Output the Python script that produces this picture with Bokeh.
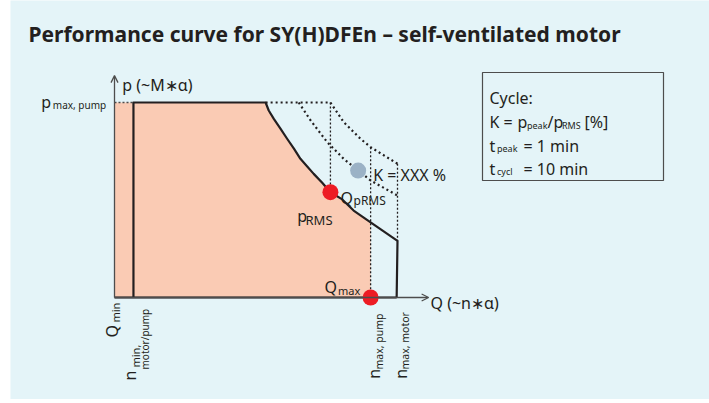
import math
from bokeh.plotting import figure
from bokeh.models import Range1d, Arrow, OpenHead
from bokeh.core.properties import value
from bokeh.embed import file_html
from bokeh.resources import INLINE

# ---------------- data (diagram units: Q in % of n_max,motor ; p in % of p_max) ----------------
Q_AXIS = 0.0
N_MIN = 6.7
N_MAX_PUMP = 90.5
N_MAX_MOTOR = 100.0
MOTOR_FOOT = 99.7
P_MAX = 100.0
Q_AXIS_END = 111.0
P_AXIS_END = 113.8

# limiting (continuous) curve of the self-ventilated motor
curve_q = [53.4, 54.5, 56.3, 58.7, 61.0, 63.4, 65.7, 68.1, 70.4, 73.4, 76.3, 80.2, 84.5, 90.5, 100.0]
curve_p = [100.0, 95.9, 91.6, 86.5, 81.4, 76.3, 71.1, 67.2, 63.4, 58.8, 54.0, 50.6, 44.6, 38.5, 29.0]

# dotted peak curves
outer_q = [76.3, 81.0, 86.9, 90.5, 100.0]
outer_p = [100.0, 89.9, 81.4, 77.1, 68.6]
inner_q = [65.1, 69.3, 75.2, 81.0, 86.1, 90.5, 100.0]
inner_p = [100.0, 90.8, 79.6, 71.1, 65.1, 60.0, 52.3]

# marked operating points
rms_q, rms_p = [76.3], [54.0]
qmax_q, qmax_p = [90.5], [0.0]
k_q, k_p = [86.1], [65.1]

TITLE = "Performance curve for SY(H)DFEn \u2013 self-ventilated motor"

# ---------------- styling / layout ----------------
BG = "#E4F4F8"
SALMON = "#FACBB4"
RED = "#ED1C24"
GREY_DOT = "#9BB2C6"
LINE = "#231F20"
AXIS = "#4D4D4D"
TEXT = "#231F20"
FONT = "Noto Sans"

W, H = 709, 399
LEFT = 10                     # white strip left of the panel
OX, OY = 114, 297             # pixel position of the origin
PX_Q, PX_P = 2.83, 1.95       # pixels per diagram unit

def X(xpx):
    return (xpx - OX) / PX_Q

def Y(ypx):
    return (OY - ypx) / PX_P

x_range = Range1d(X(LEFT), X(W))
y_range = Range1d(Y(H), Y(0))

p = figure(width=W, height=H, x_range=x_range, y_range=y_range,
           output_backend="svg", toolbar_location=None,
           x_axis_location=None, y_axis_location=None,
           min_border=0, min_border_left=LEFT,
           background_fill_color=BG, border_fill_color="white",
           outline_line_color=None)
p.grid.visible = False

# salmon area (pump operating range)
k = curve_q.index(N_MAX_PUMP)
p.patch(x=[Q_AXIS, Q_AXIS] + curve_q[:k + 1] + [N_MAX_PUMP],
        y=[0, P_MAX] + curve_p[:k + 1] + [0],
        fill_color=SALMON, line_color=None)

# dotted construction lines
p.line([Q_AXIS, N_MIN], [P_MAX, P_MAX], line_color=AXIS, line_width=1.4, line_dash="2 2")
p.line([curve_q[0], outer_q[0]], [P_MAX, P_MAX], line_color=LINE, line_width=2.2, line_dash="2 3")
p.line(outer_q, outer_p, line_color=LINE, line_width=2.2, line_dash="2 3")
p.line(inner_q, inner_p, line_color=LINE, line_width=2.2, line_dash="2 3")
p.line([rms_q[0], rms_q[0]], [P_MAX, rms_p[0]], line_color=LINE, line_width=1.3, line_dash="2 2")
p.line([N_MAX_PUMP, N_MAX_PUMP], [outer_p[outer_q.index(N_MAX_PUMP)], 0], line_color=LINE, line_width=1.3, line_dash="2 2")
p.line([N_MAX_MOTOR, N_MAX_MOTOR], [outer_p[-1], curve_p[-1]], line_color=LINE, line_width=1.3, line_dash="2 2")

# solid envelope
p.line(x=[N_MIN, N_MIN] + curve_q + [MOTOR_FOOT], y=[0, P_MAX] + curve_p + [0],
       line_color=LINE, line_width=2.2, line_join="round")
p.line([Q_AXIS, MOTOR_FOOT], [0, 0], line_color=LINE, line_width=2)

# axes with arrows
p.add_layout(Arrow(end=OpenHead(size=7, line_color=AXIS, line_width=1.3),
                   x_start=Q_AXIS, y_start=0, x_end=Q_AXIS_END, y_end=0,
                   line_color=AXIS, line_width=1.3))
p.add_layout(Arrow(end=OpenHead(size=7, line_color=AXIS, line_width=1.3),
                   x_start=Q_AXIS, y_start=0, x_end=Q_AXIS, y_end=P_AXIS_END,
                   line_color=AXIS, line_width=1.3))

# points
p.scatter(rms_q + qmax_q, rms_p + qmax_p, size=16, fill_color=RED, line_color=None)
p.scatter(k_q, k_p, size=16, fill_color=GREY_DOT, line_color=None)

# cycle box
p.quad(left=[X(482)], right=[X(663)], top=[Y(72)], bottom=[Y(180)],
       fill_color=BG, line_color=AXIS, line_width=1.2)

def txt(xpx, ypx, s, size, angle=0.0, bold=False, align="left"):
    p.text(x=[X(xpx)], y=[Y(ypx)], text=[s], angle=angle,
           text_font=value(FONT), text_font_size=f"{size}px",
           text_font_style="bold" if bold else "normal",
           text_baseline="alphabetic", text_align=align, text_color=TEXT)

UP = math.pi / 2

# title
txt(28, 33.3, TITLE, 21, bold=True)

# axis titles
txt(121.7, 84, "p (~M\u2217\u03b1)", 16)
txt(430, 302.5, "Q (~n\u2217\u03b1)", 16)

# p max, pump
txt(40.7, 101, "p", 16)
txt(52.3, 104, "max, pump", 10)

# labels in diagram
txt(372.7, 174.5, "K = XXX %", 16)
txt(340, 197, "Q", 16)
txt(353, 199.5, "pRMS", 12)
txt(296.7, 215, "p", 16)
txt(305, 219, "RMS", 13)
txt(324, 286.5, "Q", 16)
txt(337.5, 290, "max", 11)

# rotated labels under the Q axis
txt(111, 337, "Q", 16, angle=UP)
txt(114.5, 322, "min", 11, angle=UP)
txt(129, 380, "n", 16, angle=UP)
txt(135, 367, "min,", 11, angle=UP)
txt(144, 369, "motor/pump", 10, angle=UP)
txt(373, 378.3, "n", 16, angle=UP)
txt(378.5, 369, "max, pump", 10.5, angle=UP)
txt(400, 378.3, "n", 16, angle=UP)
txt(404.5, 369, "max, motor", 10.5, angle=UP)

# box text
txt(489, 97, "Cycle:", 16)
txt(489, 121.5, "K =", 16)
txt(517, 121.5, "p", 16)
txt(526.5, 124.5, "peak", 9)
txt(547, 121.5, "/p", 16)
txt(561.5, 124.5, "RMS", 9)
txt(584, 121.5, "[%]", 16)
txt(489, 145, "t", 16)
txt(496.5, 148, "peak", 9)
txt(523, 145, "= 1 min", 16)
txt(489, 168, "t", 16)
txt(496.5, 171, "cycl", 9)
txt(523, 168, "= 10 min", 16)

open("out.html", "w").write(file_html(p, INLINE))
